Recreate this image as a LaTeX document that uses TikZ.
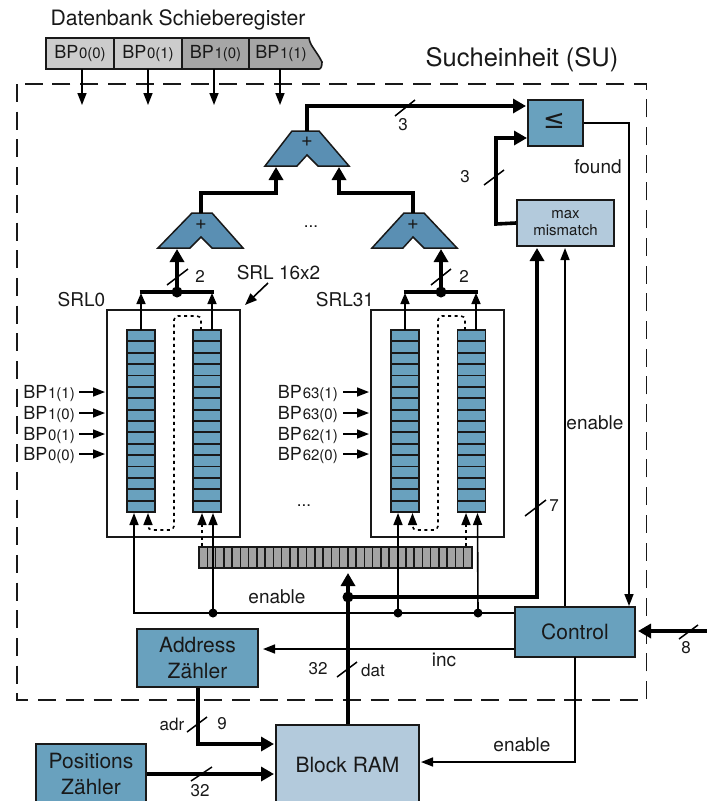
\documentclass[tikz,border=0pt]{standalone}
\usepackage{fontspec}
\setmainfont{TeX Gyre Heros}
\newfontfamily\djv{DejaVu Sans}
\usetikzlibrary{arrows.meta}
\definecolor{cellblue}{HTML}{69A1BE}
\definecolor{addblue}{HTML}{5A8FB3}
\definecolor{lightblue}{HTML}{B3CADC}
\definecolor{reglight}{HTML}{CCCCCC}
\definecolor{regdark}{HTML}{A6A6A6}
\definecolor{srgrey}{HTML}{A3A3A3}
\newcommand{\fs}[1]{\fontsize{#1}{#1}\selectfont}
\newcommand{\bp}[1]{BP\kern0.8pt{\fs{15}#1}}
\tikzset{
  thin line/.style={line width=1.6pt,-{Triangle[width=9pt,length=12pt]}},
  plain line/.style={line width=1.6pt},
  bus/.style={line width=3.6pt,-{Triangle[width=14pt,length=13pt]}},
  plain bus/.style={line width=3.6pt},
  tick/.style={line width=1.5pt},
  dotted link/.style={line width=1.6pt,dash pattern=on 3pt off 3.5pt,rounded corners=4pt,-{Triangle[width=9pt,length=12pt,sep=0pt]}},
  junction/.style={circle,fill=black,inner sep=0pt,minimum size=#1},
  junction/.default=9pt,
  lab/.style={inner sep=0pt,font=\fs{17},text=black!90},
  txt/.style={inner sep=0pt,font=\fs{19},text=black!90},
  bluebox/.style={draw=black!90,line width=1.7pt,fill=cellblue,inner sep=0pt,align=center,font=\fontsize{21}{26}\selectfont,text=black!90},
  lightbox/.style={draw=black!90,line width=1.7pt,fill=lightblue,inner sep=0pt,align=center,text=black!90},
  regcell/.style={draw=black!90,line width=1.6pt,inner sep=0pt,minimum height=31pt,font=\fs{18},text=black!90},
  srlbox/.style={draw=black!90,line width=1.7pt,fill=white,inner sep=0pt},
  colbox/.style={draw=black!90,line width=1.6pt,fill=cellblue,inner sep=0pt,minimum width=28pt,minimum height=182pt},
  adder/.style={draw=black!90,line width=1.5pt,fill=addblue,line join=miter},
}
\begin{document}
\begin{tikzpicture}[x=1pt,y=-1pt]
\useasboundingbox (0,0) rectangle (707,801);

% outer dashed frame
\draw[line width=1.5pt,dash pattern=on 18pt off 9.7pt,black!90] (17,84) rectangle (646.5,700);
\node[inner sep=0pt,font=\fs{25.5},text=black!90] (su) at (522,60) {Sucheinheit (SU)};
\node[inner sep=0pt,font=\fs{21.2},text=black!90] (dbt) at (178,20) {Datenbank Schieberegister};

% database shift register
\node[regcell,fill=reglight,minimum width=68pt] (r0) at (80,53.5) {\bp{0(0)}};
\node[regcell,fill=reglight,minimum width=68pt] (r1) at (148,53.5) {\bp{0(1)}};
\node[regcell,fill=regdark,minimum width=67pt] (r2) at (215.5,53.5) {\bp{1(0)}};
\draw[draw=black!90,line width=1.6pt,fill=regdark] (249,38) -- (309,38) .. controls (310,46) and (316,50) .. (322,62) .. controls (322,66) and (321,69) .. (319,69) -- (249,69) -- cycle;
\node[inner sep=0pt,font=\fs{18},text=black!90] (r3) at (281,53.5) {\bp{1(1)}};
\coordinate (o0) at (82,105); \coordinate (o1) at (148,105); \coordinate (o2) at (214,105); \coordinate (o3) at (280,105);
\draw[thin line] (82,69) -- (o0);
\draw[thin line] (148,69) -- (o1);
\draw[thin line] (214,69) -- (o2);
\draw[thin line] (280,69) -- (o3);

% adders
\draw[adder] (292,131) -- (319,131) -- (349,166) -- (318,166) -- (307,155) -- (297,166) -- (265,166) -- cycle;
\draw[adder] (192,213) -- (212,213) -- (243,248) -- (212,248) -- (201,237) -- (190,248) -- (158,248) -- cycle;
\draw[adder] (404,213) -- (424,213) -- (457,248) -- (424,248) -- (413,237) -- (403,248) -- (372,248) -- cycle;
\node[inner sep=0pt,font=\fs{20},text=black!90] (a0) at (307,142) {+};
\node[inner sep=0pt,font=\fs{20},text=black!90] (a1) at (201,225) {+};
\node[inner sep=0pt,font=\fs{20},text=black!90] (a2) at (413,225) {+};
\coordinate (a0top) at (307,131); \coordinate (a1top) at (201,213); \coordinate (a2top) at (413,213);
\coordinate (a0l) at (276,167); \coordinate (a0r) at (339,167);
\coordinate (a1in) at (177,249); \coordinate (a2in) at (441,249);
\node[lab] (dots1) at (311,227) {...};

% right upper blocks
\node[bluebox,minimum width=55pt,minimum height=46pt] (cmp) at (555.5,123) {};
\node[inner sep=0pt,font=\fs{26}\djv,text=black!90] at (554,121) {≤};
\node[lightbox,minimum width=97pt,minimum height=46pt,font=\fontsize{15}{17}\selectfont] (mm) at (565.5,223) {max\\mismatch};

% adder tree connectors
\draw[bus] (a0top) -- (307,106) -- (526,106);
\draw[tick] (395,116) -- (415,100);
\node[lab] at (403,125) {3};
\draw[bus] (a1top) -- (201,193) -- (276,193) -- (a0l);
\draw[bus] (a2top) -- (413,193) -- (339,193) -- (a0r);
\draw[bus] (mm.west) -- (496,224) -- (496,138) -- (527,138);
\draw[tick] (484,185) -- (504,170);
\node[lab] at (465,177) {3};

% SRL boxes
\node[srlbox,minimum width=133pt,minimum height=227pt] (s0) at (173.5,423.5) {};
\node[srlbox,minimum width=133pt,minimum height=227pt] (s1) at (437.5,423.5) {};
\node[colbox] (c00) at (141,421) {};
\node[colbox] (c01) at (207,421) {};
\node[colbox] (c10) at (405,421) {};
\node[colbox] (c11) at (471.5,421) {};
\foreach \cx in {141,207,405,471.5}{
  \foreach \i in {1,...,15}{
    \draw[line width=1.8pt,black!90] (\cx-14,330+\i*11.375) -- (\cx+14,330+\i*11.375);
  }
}
\node[txt] (s0l) at (81.5,300) {SRL0};
\node[txt] (s1l) at (345,300) {SRL31};
\node[txt] (sl) at (278.5,273) {SRL 16x2};
\coordinate (sarrow) at (245,305);
\draw[line width=1.6pt,-{Triangle[width=9pt,length=12pt]}] (268,283) -- (sarrow);

% column outputs
\coordinate (j0) at (177,292); \coordinate (j1) at (441,292);
\draw[plain bus,line cap=butt] (139.5,292) -- (214,292);
\draw[plain bus,line cap=butt] (403.5,292) -- (478,292);
\draw[line width=1.6pt,-{Triangle[width=9pt,length=11pt]}] (141,330) -- (141,293);
\draw[line width=1.6pt,-{Triangle[width=9pt,length=11pt]}] (212,330) -- (212,293);
\draw[line width=1.6pt,-{Triangle[width=9pt,length=11pt]}] (405,330) -- (405,293);
\draw[line width=1.6pt,-{Triangle[width=9pt,length=11pt]}] (476,330) -- (476,293);
\draw[bus] (j0) -- (a1in);
\draw[bus] (j1) -- (a2in);
\node[junction=11pt] at (j0) {};
\node[junction=11pt] at (j1) {};
\draw[tick] (167,285) -- (188,269);
\draw[tick] (431,285) -- (451,269);
\node[lab] (t2a) at (200,276) {2};
\node[lab] (t2b) at (464,276) {2};

% dotted feedback
\coordinate (d0) at (148,513); \coordinate (d1) at (412.5,513);
\draw[dotted link] (201,330) -- (201,316) -- (174,316) -- (174,530) -- (148,530) -- (d0);
\draw[dotted link] (465,330) -- (465,316) -- (438,316) -- (438,530) -- (412.5,530) -- (d1);

% BP labels
\foreach \y/\t in {392/1(1),413/1(0),434/0(1),454/0(0)}{
  \node[inner sep=0pt,anchor=base east,font=\fs{18},text=black!90] at (75,\y+6) {\bp{\t}};
  \draw[line width=1.6pt,-{Triangle[width=9pt,length=12pt]}] (79,\y) -- (105,\y);
}
\foreach \y/\t in {392/63(1),413/63(0),434/62(1),454/62(0)}{
  \node[inner sep=0pt,anchor=base east,font=\fs{18},text=black!90] at (338,\y+6) {\bp{\t}};
  \draw[line width=1.6pt,-{Triangle[width=9pt,length=12pt]}] (343,\y) -- (369,\y);
}
\node[lab] (dots2) at (304,506) {...};

% shift register bar
\node[draw=black!90,line width=1.6pt,fill=srgrey,inner sep=0pt,minimum width=273pt,minimum height=21pt] (bar) at (335.5,557.5) {};
\foreach \i in {1,...,32}{
  \draw[line width=1.5pt,black!90] (199+\i*8.27,547) -- (199+\i*8.27,568);
}

% lower blocks
\node[bluebox,minimum width=120pt,minimum height=50pt] (ctrl) at (575,632) {Control};
\node[bluebox,minimum width=121pt,minimum height=58pt] (az) at (197.5,658) {Address\\Zähler};
\node[bluebox,minimum width=110pt,minimum height=60pt] (pz) at (91,774) {Positions\\Zähler};
\node[lightbox,minimum width=143pt,minimum height=80pt,font=\fs{21}] (ram) at (347.5,765) {Block RAM};

% enable network
\coordinate (e0) at (213,613); \coordinate (e1) at (398,613); \coordinate (e2) at (478,613);
\draw[plain line] (ctrl.west |- e0) -- (134,613) -- (134,600);
\coordinate (e0t) at (134,513);
\draw[thin line] (134,600) -- (e0t);
\draw[thin line] (e0) -- (213,513);
\draw[thin line] (e1) -- (398,513);
\draw[thin line] (e2) -- (477.5,513);
\draw[dotted link] (202,546) -- (202,513);
\draw[dotted link] (466,546) -- (466,513);
\node[junction] at (e0) {};
\node[junction] at (e1) {};
\node[junction] at (e2) {};
\node[txt] (en1) at (277,597) {enable};

% data bus
\coordinate (dj) at (348,597);
\draw[bus] (ram.north -| dj) -- (348,573);
\draw[plain bus] (dj) -- (537,597) -- (537,560);
\draw[bus] (537,560) -- (537,248);
\node[junction=11pt] at (dj) {};
\draw[tick] (525,516) -- (546,500);
\node[lab] (t7) at (554,506) {7};
\draw[tick] (337,677) -- (357,662);
\node[lab] (t32) at (318,669) {32};
\node[inner sep=0pt,font=\fs{17},text=black!90] (tdat) at (373,670) {dat};

% control links
\draw[thin line] (ctrl.north -| 565,0) -- (565,248);
\node[txt] (en2) at (595,423) {enable};
\draw[plain line] (cmp.east |- 0,123) -- (629,123) -- (629,590);
\draw[thin line] (629,580) -- (629,606);
\node[txt] (found) at (598,167) {found};
\draw[thin line] (ctrl.west |- 0,649) -- (263,649);
\node[txt] (inc) at (444,660) {inc};
\draw[thin line] (575,657) -- (575,762) -- (421,762);
\node[txt] (en3) at (522,745) {enable};
\coordinate (in8) at (707,631);
\draw[bus] (in8) -- (638,631);
\draw[tick] (679,639) -- (698,625);
\node[lab] (t8) at (686,648) {8};

% counters to RAM
\draw[bus] (az.south -| 198,0) -- (198,744) -- (274,744);
\draw[tick] (187,732) -- (207,717);
\node[inner sep=0pt,font=\fs{17},text=black!90] (tadr) at (172,724) {adr};
\node[lab] (t9) at (222,724) {9};
\draw[bus] (pz.east |- 0,774) -- (274,774);
\draw[tick] (191,781) -- (212,767);
\node[lab] (t32b) at (200,791) {32};
\end{tikzpicture}
\end{document}
